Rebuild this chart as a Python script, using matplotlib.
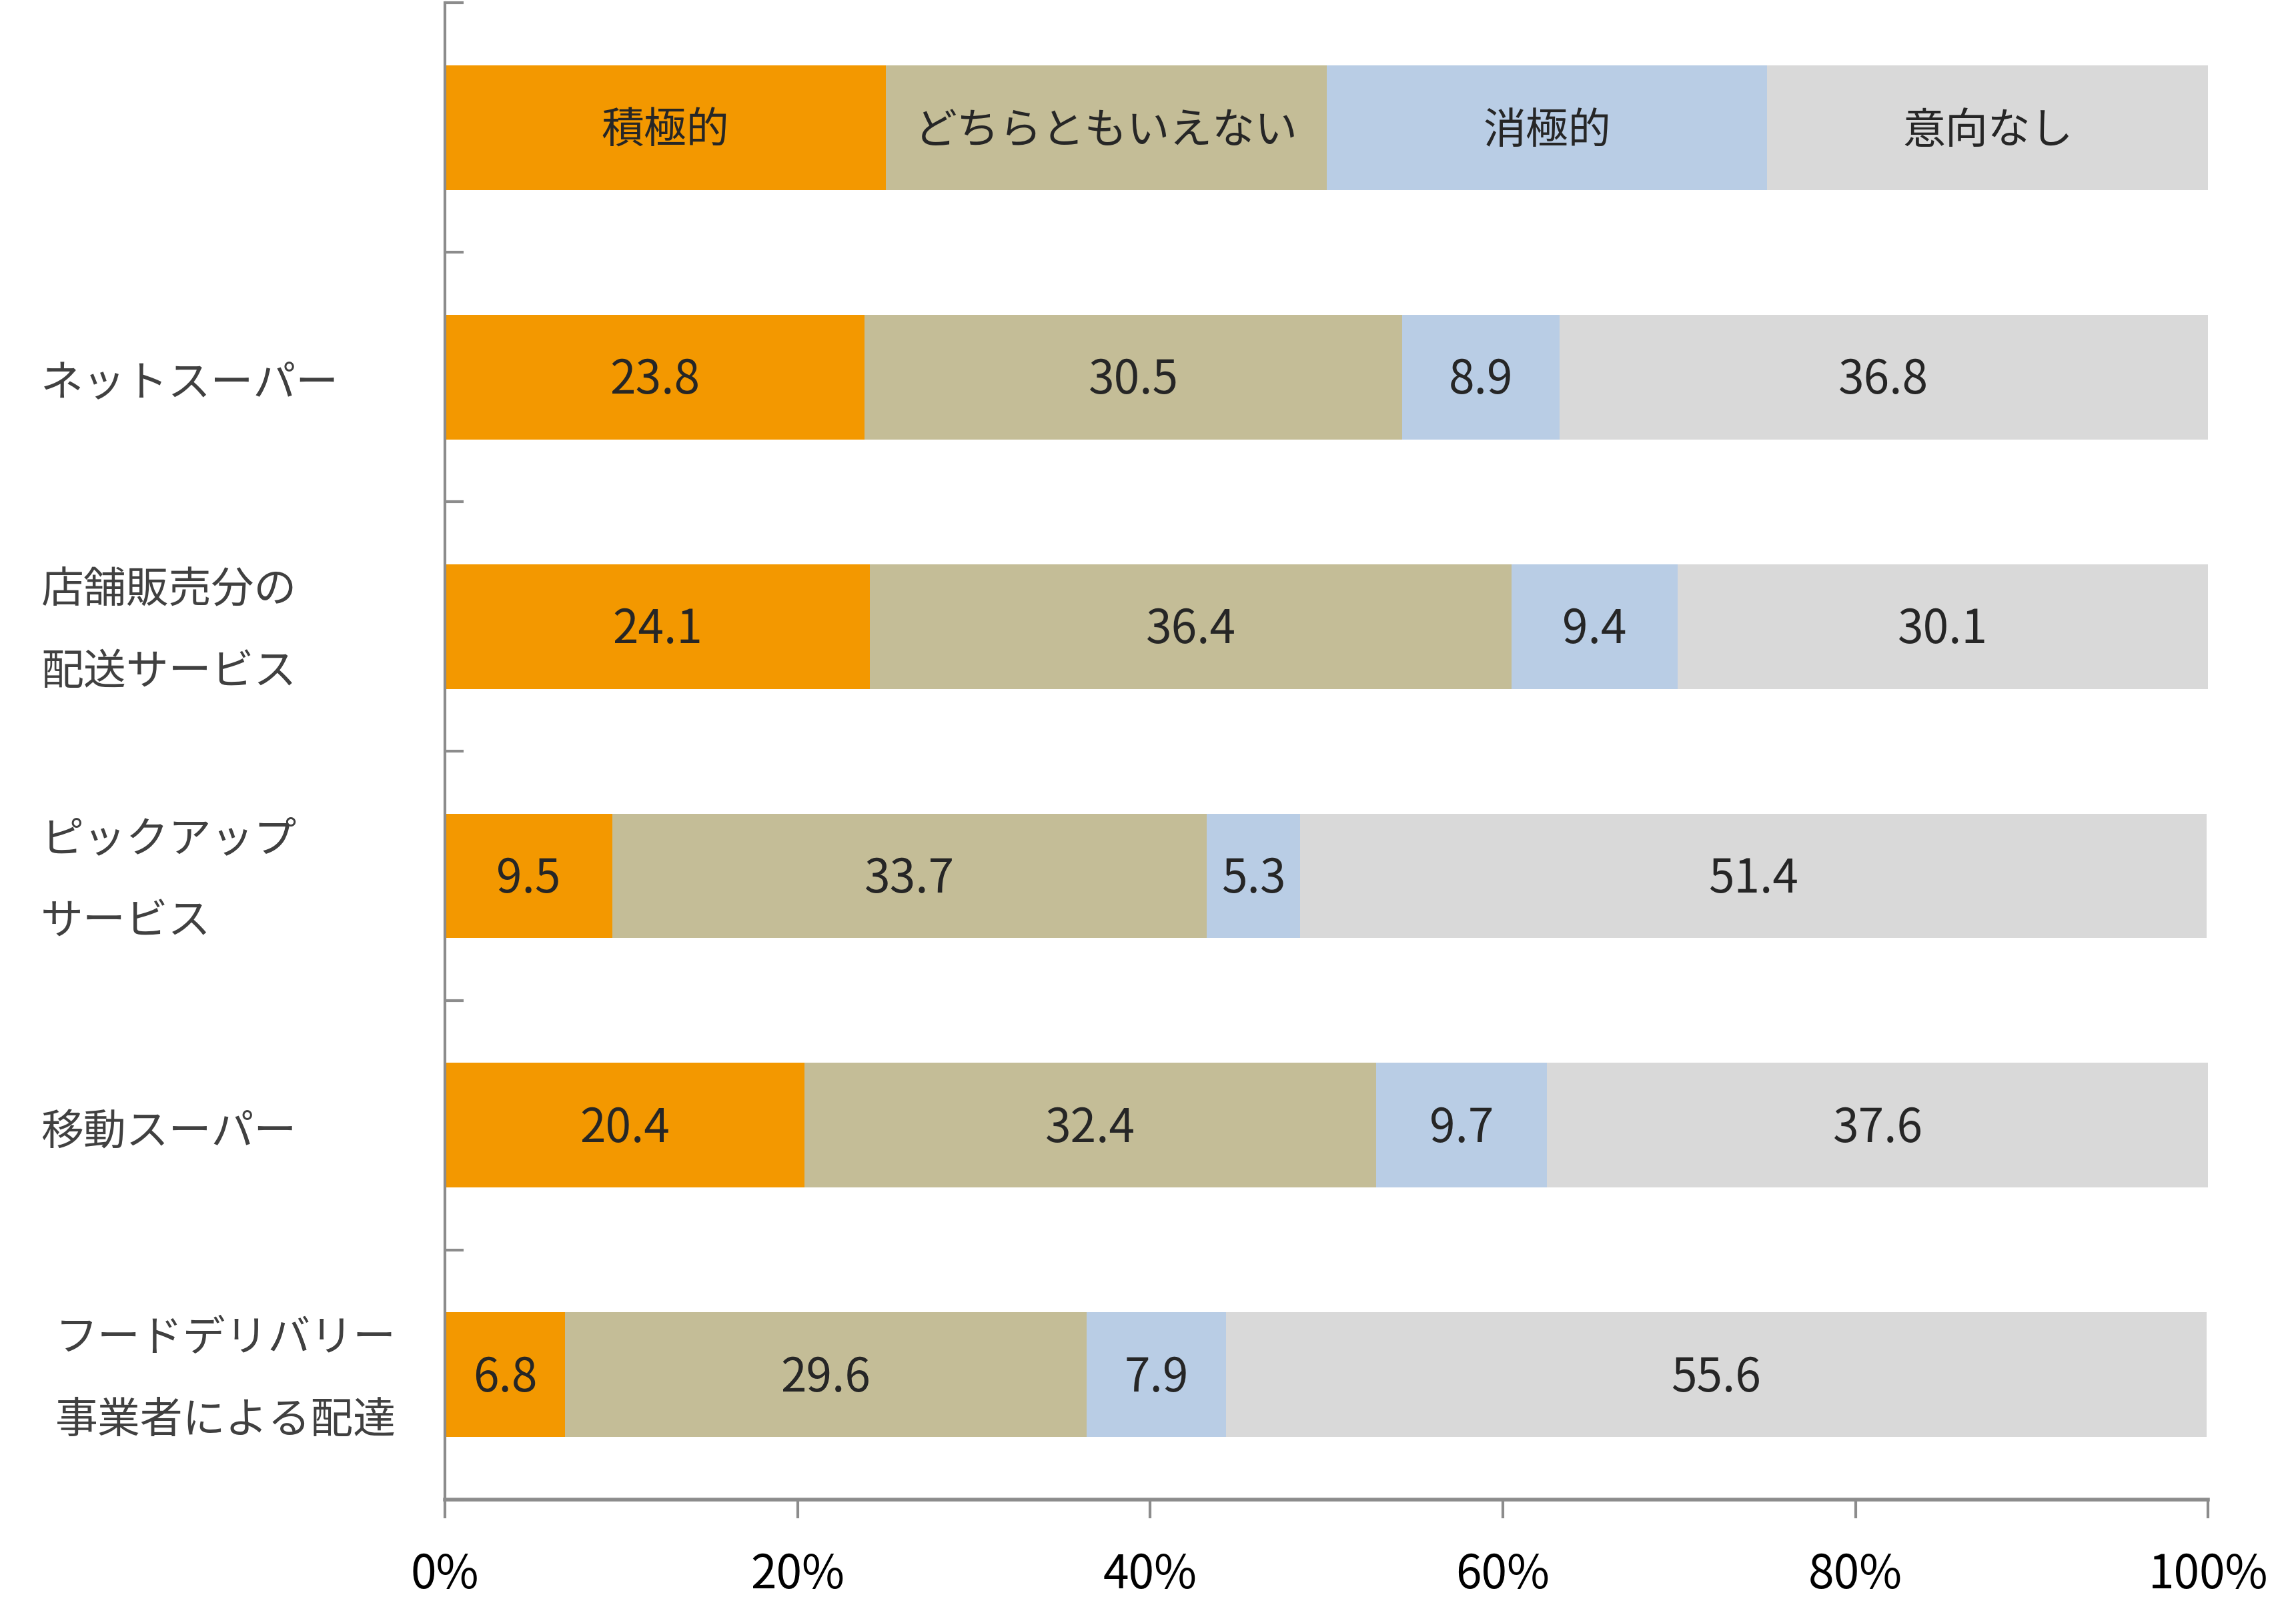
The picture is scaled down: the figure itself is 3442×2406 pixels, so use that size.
import matplotlib
matplotlib.use("Agg")
import matplotlib.pyplot as plt
import matplotlib.transforms as mtransforms

plt.rcParams['font.family'] = ['Noto Sans CJK JP', 'DejaVu Sans']

# ---- data ----
series_names = ["積極的", "どちらともいえない", "消極的", "意向なし"]
categories = ["ネットスーパー", "店舗販売分の\n配送サービス", "ピックアップ\nサービス",
              "移動スーパー", "フードデリバリー\n事業者による配達"]
active = [23.8, 24.1, 9.5, 20.4, 6.8]
neutral = [30.5, 36.4, 33.7, 32.4, 29.6]
passive = [8.9, 9.4, 5.3, 9.7, 7.9]
none_ = [36.8, 30.1, 51.4, 37.6, 55.6]
legend_row = [25, 25, 25, 25]
xtick_values = [0, 20, 40, 60, 80, 100]
xtick_labels = ["0%", "20%", "40%", "60%", "80%", "100%"]

colors = ["#F39800", "#C4BD97", "#B9CDE5", "#D9D9D9"]

fig = plt.figure(figsize=(17.21, 12.03), dpi=200)
ax = fig.add_axes([0.1938, 0.0657, 0.9617 - 0.1938, 0.9983 - 0.0657])

bar_h = 0.5
dy = 0.015
# legend-like row at position 0
left = 0
for j, (name, w) in enumerate(zip(series_names, legend_row)):
    ax.barh(0, w, left=left, height=bar_h, color=colors[j], edgecolor='none')
    ax.text(left + w / 2, 0 + dy, name, ha='center', va='center', fontsize=23, color='#262626')
    left += w

series = [active, neutral, passive, none_]
for i in range(len(categories)):
    y = i + 1
    left = 0
    for j in range(4):
        v = series[j][i]
        ax.barh(y, v, left=left, height=bar_h, color=colors[j], edgecolor='none')
        ax.text(left + v / 2, y + dy, f"{v:.1f}", ha='center', va='center', fontsize=25, color='#262626')
        left += v

ax.set_xlim(0, 100)
ax.set_ylim(len(categories) + 0.5, -0.5)

ax.set_xticks(xtick_values)
ax.set_xticklabels(xtick_labels, fontsize=25, color='black')
ax.set_yticks([k - 0.5 for k in range(len(categories) + 2)])
ax.set_yticklabels([])
ax.tick_params(axis='y', direction='in', length=10, width=1.5, color='#8C8C8C')
ax.tick_params(axis='x', direction='out', length=10, width=1.5, color='#8C8C8C', pad=18)

for s in ['top', 'right']:
    ax.spines[s].set_visible(False)
ax.spines['left'].set_color('#8C8C8C')
ax.spines['left'].set_linewidth(1.5)
ax.spines['bottom'].set_color('#8C8C8C')
ax.spines['bottom'].set_linewidth(2.0)

# category labels
trans = mtransforms.blended_transform_factory(fig.transFigure, ax.transData)
label_x = [61, 61, 61, 61, 83]
label_dy = [0.03, 0.02, 0.02, 0.03, 0.02]
for i, cat in enumerate(categories):
    ax.text(label_x[i] / 3442, i + 1 + label_dy[i], cat, transform=trans, ha='left', va='center',
            fontsize=23, color='#404040', linespacing=2.1)

fig.savefig("out.png", dpi=200)
